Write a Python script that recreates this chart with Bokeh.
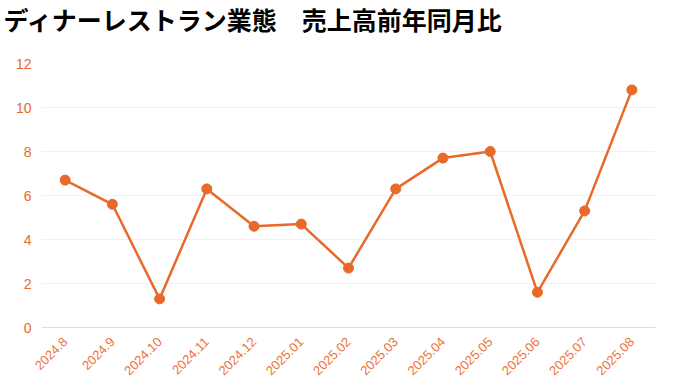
from bokeh.plotting import figure
from bokeh.embed import file_html
from bokeh.resources import INLINE
from bokeh.models import ColumnDataSource, FixedTicker, Title
from math import pi

title_text = "ディナーレストラン業態　売上高前年同月比"
months = ["2024.8", "2024.9", "2024.10", "2024.11", "2024.12", "2025.01", "2025.02",
          "2025.03", "2025.04", "2025.05", "2025.06", "2025.07", "2025.08"]
values = [6.7, 5.6, 1.3, 6.3, 4.6, 4.7, 2.7, 6.3, 7.7, 8.0, 1.6, 5.3, 10.8]
y_ticks = [0, 2, 4, 6, 8, 10, 12]

ORANGE = "#e8692a"
src = ColumnDataSource(dict(m=months, v=values))

p = figure(x_range=months, y_range=(0, 12), frame_width=614, frame_height=264,
           output_backend="svg", toolbar_location=None,
           min_border_left=41, min_border_right=10, min_border_top=62, min_border_bottom=50)

# spacer panel between frame and title
p.add_layout(Title(text=" ", text_font_size="1px", standoff=22), "above")
# main title (outermost panel)
p.add_layout(Title(text=title_text, text_font="Noto Sans CJK JP", text_font_size="25px",
                   text_font_style="bold", text_color="#000000", offset=-38,
                   standoff=0, vertical_align="top"), "above")

p.line("m", "v", source=src, line_color=ORANGE, line_width=2.5)
p.scatter("m", "v", source=src, size=10, fill_color=ORANGE, line_color=ORANGE)

p.outline_line_color = None
p.xgrid.grid_line_color = None
p.ygrid.grid_line_color = "#fdeee8"
p.ygrid.grid_line_width = 1
p.yaxis.ticker = FixedTicker(ticks=y_ticks)
p.yaxis.axis_line_color = None
p.yaxis.major_tick_line_color = None
p.yaxis.minor_tick_line_color = None
p.yaxis.major_label_text_color = ORANGE
p.yaxis.major_label_text_font = "Liberation Sans"
p.yaxis.major_label_text_font_size = "14px"
p.yaxis.major_label_standoff = 4

p.xaxis.axis_line_color = "#f8d5c5"
p.xaxis.major_tick_line_color = None
p.xaxis.major_label_orientation = pi / 4
p.xaxis.major_label_text_color = "#ee7438"
p.xaxis.major_label_text_font = "Liberation Sans"
p.xaxis.major_label_text_font_size = "13px"
p.xaxis.major_label_standoff = 6
p.background_fill_color = "white"
p.border_fill_color = "white"

open("out.html", "w").write(file_html(p, INLINE))
